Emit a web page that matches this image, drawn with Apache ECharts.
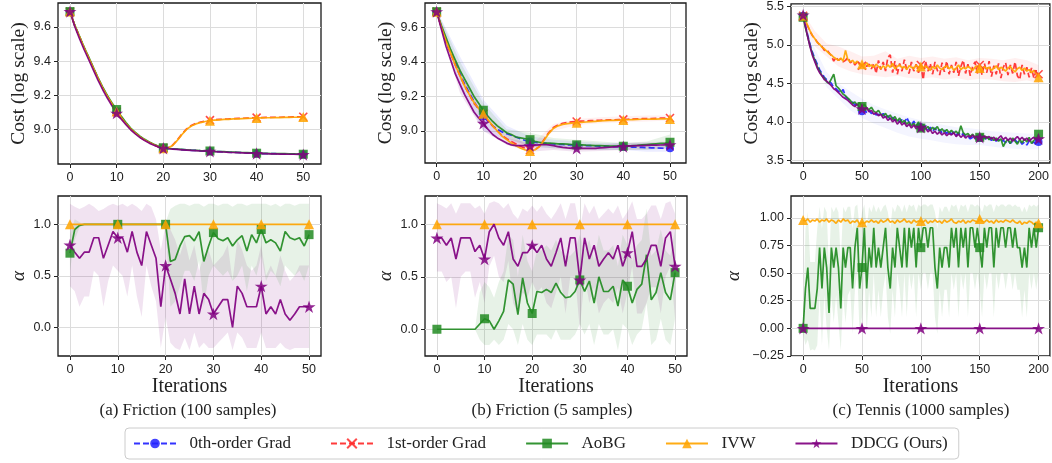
<!DOCTYPE html>
<html><head><meta charset="utf-8">
<script src="https://cdn.jsdelivr.net/npm/echarts@6.0.0/dist/echarts.min.js"></script>
<style>html,body{margin:0;padding:0;background:#fff}#c{width:1052px;height:463px}</style>
</head><body><div id="c"></div><script>
// ---------- labels ----------
const legendNames = ['0th-order Grad', '1st-order Grad', 'AoBG', 'IVW', 'DDCG (Ours)'];
const captions = ['(a) Friction (100 samples)', '(b) Friction (5 samples)', '(c) Tennis (1000 samples)'];
const costLabel = 'Cost (log scale)';
const alphaLabel = 'α';
const xLabel = 'Iterations';

// ---------- iterations / ticks ----------
const frictionIters = Array.from({length: 51}, (_, k) => k);
const tennisIters = Array.from({length: 101}, (_, k) => 2 * k);
const frictionBandIters = [0, 5, 10, 15, 20, 25, 30, 35, 40, 45, 50];
const tennisBandIters = [0, 10, 20, 30, 40, 50, 60, 70, 80, 90, 100, 110, 120, 130, 140, 150, 160, 170, 180, 190, 200];
const xTicksFriction = [0, 10, 20, 30, 40, 50];
const xTicksTennis = [0, 50, 100, 150, 200];
const yTicksCostFriction = [9.0, 9.2, 9.4, 9.6];
const yTicksCostTennis = [3.5, 4.0, 4.5, 5.0, 5.5];
const yTicksAlphaFriction = [0, 0.5, 1.0];
const yTicksAlphaTennis = [-0.25, 0, 0.25, 0.5, 0.75, 1.0];

// ---------- (a) Friction 100 samples : cost ----------
const aCost0th = [9.69,9.61,9.545,9.48,9.42,9.36,9.30,9.245,9.195,9.15,
 9.108,9.07,9.035,9.005,8.98,8.958,8.94,8.925,8.912,8.90,
 8.893,8.89,8.888,8.886,8.884,8.882,8.88,8.879,8.877,8.876,
 8.875,8.873,8.872,8.871,8.869,8.868,8.867,8.866,8.865,8.864,
 8.862,8.861,8.861,8.86,8.86,8.859,8.859,8.858,8.858,8.857,
 8.856];
const aCost1st = [9.69,9.61,9.545,9.48,9.42,9.36,9.30,9.245,9.195,9.15,
 9.106,9.07,9.035,9.005,8.98,8.958,8.94,8.925,8.912,8.90,
 8.893,8.895,8.91,8.94,8.975,9.005,9.025,9.037,9.045,9.05,
 9.056,9.058,9.06,9.062,9.063,9.065,9.066,9.067,9.068,9.069,
 9.071,9.071,9.072,9.072,9.073,9.073,9.074,9.074,9.075,9.075,
 9.076];
const aCostAoBG = [9.69,9.612,9.548,9.484,9.425,9.365,9.305,9.25,9.2,9.156,
 9.118,9.078,9.042,9.01,8.984,8.962,8.944,8.928,8.915,8.903,
 8.895,8.892,8.889,8.887,8.885,8.883,8.881,8.88,8.878,8.877,
 8.876,8.874,8.873,8.872,8.87,8.869,8.868,8.867,8.866,8.865,
 8.863,8.862,8.862,8.861,8.861,8.86,8.86,8.859,8.859,8.858,
 8.857];
const aCostIVW = [9.69,9.61,9.545,9.48,9.42,9.36,9.30,9.245,9.195,9.15,
 9.106,9.07,9.035,9.005,8.98,8.958,8.94,8.925,8.912,8.90,
 8.892,8.894,8.908,8.938,8.972,9.002,9.022,9.034,9.042,9.048,
 9.053,9.056,9.058,9.06,9.061,9.063,9.064,9.065,9.066,9.067,
 9.069,9.069,9.07,9.07,9.071,9.071,9.072,9.072,9.073,9.073,
 9.074];
const aCostDDCG = [9.69,9.605,9.535,9.47,9.41,9.35,9.29,9.235,9.185,9.14,
 9.097,9.062,9.03,9.0,8.976,8.955,8.937,8.922,8.91,8.899,
 8.892,8.889,8.887,8.885,8.883,8.881,8.879,8.878,8.876,8.875,
 8.874,8.872,8.871,8.87,8.868,8.867,8.866,8.865,8.864,8.863,
 8.861,8.86,8.86,8.859,8.859,8.858,8.858,8.857,8.857,8.856,
 8.855];

// ---------- (a) alpha ----------
const aAlphaAoBG = [0.72,0.95,0.99,1,1,1,1,1,1,1,
 1,1,1,1,1,1,1,1,1,1,
 1,0.64,0.66,0.79,0.88,0.89,0.84,0.93,0.64,0.79,
 0.92,0.86,0.84,0.87,0.79,0.85,0.89,0.74,0.9,0.82,
 0.95,0.82,0.85,0.82,0.74,0.93,0.87,0.85,0.87,0.79,
 0.9];
const aAlphaIVW = [1,1,1,1,1,1,1,1,1,1, 1,1,1,1,1,1,1,1,1,1, 1,1,1,1,1,1,1,1,1,1,
 1,1,1,1,1,1,1,1,1,1, 1,1,1,1,1,1,1,1,1,1, 1];
const aAlphaDDCG = [0.80,0.73,0.67,0.73,0.73,0.87,0.87,0.67,0.80,0.93,
 0.87,0.87,0.73,0.93,0.73,0.60,0.93,0.80,0.67,0.20,
 0.60,0.47,0.33,0.13,0.47,0.13,0.40,0.13,0.33,0.27,
 0.13,0.20,0.27,0.27,0.00,0.40,0.33,0.20,0.20,0.20,
 0.40,0.13,0.20,0.13,0.27,0.13,0.07,0.13,0.20,0.20,
 0.20];
const aBandDDCGHi = [1.2,1.17,1.15,1.17,1.2,1.17,1.13,1.15,1.18,1.2,
 1.18,1.2,1.17,1.2,1.17,1.13,1.2,1.17,1.05,0.75,
 1.0,0.95,0.85,0.7,0.85,0.65,0.8,0.55,0.7,0.75,
 0.6,0.65,0.7,0.8,0.45,0.85,0.75,0.6,0.55,0.6,
 0.8,0.5,0.6,0.5,0.7,0.55,0.45,0.5,0.6,0.6,
 0.6];
const aBandDDCGLo = [0.4,0.35,0.2,0.3,0.3,0.55,0.5,0.2,0.45,0.6,
 0.55,0.5,0.3,0.6,0.3,0.1,0.6,0.4,0.25,-0.2,
 0.1,-0.15,-0.2,-0.22,-0.1,-0.22,-0.05,-0.2,-0.15,-0.2,
 -0.2,-0.15,-0.1,-0.05,-0.22,-0.05,-0.1,-0.2,-0.2,-0.2,
 -0.05,-0.2,-0.2,-0.2,-0.15,-0.2,-0.22,-0.2,-0.2,-0.2,
 -0.2];
const aBandAoBGHi = [0.9,1.05,1.02,1,1,1,1,1,1,1,
 1,1,1,1,1,1,1,1,1,1,
 1.02,1.15,1.18,1.2,1.2,1.18,1.2,1.2,1.17,1.2,
 1.2,1.18,1.2,1.2,1.17,1.2,1.2,1.18,1.2,1.2,
 1.2,1.2,1.18,1.2,1.17,1.2,1.2,1.18,1.2,1.2,
 1.2];
const aBandAoBGLo = [0.55,0.85,0.97,1,1,1,1,1,1,1,
 1,1,1,1,1,1,1,1,1,1,
 0.98,0.2,0.25,0.4,0.55,0.55,0.45,0.65,0.2,0.5,
 0.6,0.55,0.5,0.55,0.45,0.5,0.6,0.35,0.6,0.5,
 0.7,0.45,0.55,0.5,0.4,0.6,0.55,0.5,0.55,0.45,
 0.6];

// ---------- (b) Friction 5 samples : cost ----------
const bCost0th = [9.69,9.60,9.52,9.45,9.39,9.33,9.27,9.22,9.17,9.125,
 9.085,9.055,9.03,9.01,8.995,8.985,8.975,8.965,8.955,8.945,
 8.94,8.935,8.932,8.93,8.928,8.925,8.923,8.922,8.92,8.92,
 8.918,8.917,8.916,8.915,8.914,8.913,8.912,8.911,8.91,8.91,
 8.909,8.908,8.907,8.906,8.905,8.904,8.903,8.902,8.901,8.90,
 8.90];
const bCost1st = [9.69,9.60,9.52,9.45,9.38,9.32,9.26,9.21,9.16,9.13,
 9.10,9.06,9.03,9.00,8.975,8.955,8.94,8.925,8.91,8.90,
 8.89,8.89,8.91,8.95,8.99,9.02,9.035,9.045,9.05,9.053,
 9.055,9.057,9.058,9.06,9.061,9.062,9.063,9.064,9.065,9.066,
 9.067,9.068,9.069,9.07,9.071,9.072,9.072,9.073,9.074,9.074,
 9.075];
const bCostAoBG = [9.69,9.61,9.54,9.47,9.41,9.35,9.30,9.25,9.20,9.16,
 9.12,9.085,9.055,9.03,9.01,8.99,8.98,8.965,8.96,8.955,
 8.95,8.94,8.935,8.93,8.93,8.928,8.926,8.925,8.924,8.922,
 8.92,8.92,8.918,8.917,8.916,8.915,8.914,8.913,8.912,8.912,
 8.912,8.913,8.915,8.917,8.92,8.922,8.924,8.926,8.928,8.93,
 8.935];
const bCostIVW = [9.69,9.60,9.52,9.45,9.38,9.32,9.26,9.21,9.165,9.13,
 9.10,9.065,9.03,9.00,8.97,8.95,8.93,8.915,8.90,8.89,
 8.885,8.89,8.91,8.945,8.985,9.015,9.03,9.038,9.043,9.046,
 9.048,9.05,9.052,9.054,9.056,9.058,9.06,9.061,9.062,9.063,
 9.064,9.065,9.066,9.067,9.068,9.068,9.069,9.069,9.07,9.07,
 9.07];
const bCostDDCG = [9.69,9.59,9.49,9.41,9.33,9.27,9.21,9.16,9.11,9.075,
 9.045,9.01,8.98,8.96,8.945,8.93,8.92,8.915,8.915,8.915,
 8.915,8.918,8.92,8.922,8.92,8.915,8.91,8.905,8.902,8.90,
 8.90,8.90,8.90,8.90,8.90,8.902,8.904,8.906,8.908,8.91,
 8.91,8.912,8.914,8.915,8.916,8.917,8.918,8.918,8.919,8.92,
 8.92];
const bBandCost0thHi = [9.70,9.43,9.18,9.03,8.97,8.95,8.94,8.93,8.93,8.93,8.93];
const bBandCost0thLo = [9.68,9.25,9.00,8.95,8.91,8.90,8.90,8.89,8.89,8.88,8.88];
const bBandCost1stHi = [9.70,9.34,9.12,8.99,8.91,9.04,9.07,9.08,9.085,9.09,9.09];
const bBandCost1stLo = [9.68,9.30,9.08,8.95,8.87,9.00,9.035,9.045,9.05,9.055,9.06];
const bBandCostAoBGHi = [9.70,9.40,9.16,9.01,8.99,8.96,8.95,8.94,8.93,8.94,8.98];
const bBandCostAoBGLo = [9.68,9.30,9.08,8.96,8.91,8.90,8.89,8.89,8.89,8.89,8.90];
const bBandCostDDCGHi = [9.70,9.34,9.08,8.96,8.93,8.93,8.92,8.92,8.93,8.935,8.94];
const bBandCostDDCGLo = [9.68,9.22,9.00,8.92,8.88,8.89,8.88,8.885,8.89,8.895,8.90];

// ---------- (b) alpha ----------
const bAlphaAoBG = [0,0,0,0,0,0,0,0,0,0.05,
 0.1,0.08,0,0.08,0.17,0.47,0.43,0.14,0.49,0.25,
 0.15,0.36,0.35,0.38,0.35,0.44,0.35,0.30,0.31,0.36,
 0.47,0.36,0.46,0.25,0.50,0.36,0.36,0.41,0.22,0.47,
 0.41,0.25,0.38,0.43,0.71,0.28,0.35,0.54,0.35,0.28,
 0.54];
const bAlphaIVW = [1,1,1,1,1,1,1,1,1,1, 1,1,1,1,1,1,1,1,1,1, 1,1,1,1,1,1,1,1,1,1,
 1,1,1,1,1,1,1,1,1,1, 1,1,1,1,1,1,1,1,1,1, 1];
const bAlphaDDCG = [0.87,0.87,0.80,0.87,0.67,0.87,0.87,0.87,0.74,0.80,
 0.67,0.93,1.00,0.87,0.80,0.93,0.67,0.60,0.73,0.73,
 0.80,0.73,0.80,0.67,0.60,0.73,0.87,0.60,0.87,0.87,
 0.47,0.87,0.67,0.80,0.60,0.67,0.73,0.67,0.80,0.60,
 0.73,0.93,0.60,0.60,0.67,0.80,0.80,0.60,0.87,0.93,
 0.60];
const bBandDDCGHi = [1.2,1.18,1.15,1.2,1.1,1.2,1.2,1.2,1.15,1.18,
 1.1,1.2,1.22,1.2,1.15,1.2,1.1,1.05,1.15,1.12,
 1.18,1.12,1.18,1.1,1.05,1.12,1.2,1.05,1.2,1.2,
 0.95,1.2,1.1,1.18,1.05,1.1,1.15,1.1,1.18,1.05,
 1.12,1.22,1.05,1.05,1.1,1.18,1.18,1.05,1.2,1.22,
 1.1];
const bBandDDCGLo = [0.55,0.55,0.45,0.5,0.2,0.5,0.55,0.55,0.3,0.45,
 0.25,0.6,0.7,0.5,0.45,0.65,0.25,0.15,0.35,0.3,
 0.45,0.35,0.4,0.25,0.2,0.35,0.5,0.15,0.5,0.5,
 0.0,0.5,0.25,0.4,0.15,0.25,0.3,0.25,0.4,0.15,
 0.35,0.6,0.15,0.15,0.25,0.4,0.4,0.15,0.5,0.6,
 0.1];
const bBandAoBGHi = [0,0,0,0,0,0,0,0,0,0.35,
 0.45,0.4,0.3,0.45,0.55,0.9,0.85,0.5,0.9,0.65,
 0.55,0.75,0.75,0.8,0.75,0.85,0.75,0.7,0.7,0.75,
 0.9,0.75,0.85,0.65,0.9,0.75,0.75,0.8,0.6,0.9,
 0.8,0.65,0.8,0.85,1.15,0.7,0.75,0.95,0.75,0.7,
 0.95];
const bBandAoBGLo = [0,0,0,0,0,0,0,0,0,-0.1,
 -0.15,-0.15,-0.1,-0.15,-0.1,0.05,0.0,-0.15,0.05,-0.1,
 -0.15,-0.05,-0.05,-0.05,-0.1,0.0,-0.1,-0.1,-0.1,-0.05,
 0.05,-0.05,0.05,-0.15,0.05,-0.05,-0.05,0.0,-0.2,0.05,
 0.0,-0.15,-0.05,0.0,0.25,-0.15,-0.1,0.1,-0.1,-0.15,
 0.1];

// ---------- (c) Tennis 1000 samples : cost (every 2nd iteration) ----------
const cCost0th = [5.38,5.25,5.12,5.00,4.90,4.82,4.75,4.68,4.63,4.58,
 4.55,4.53,4.50,4.45,4.43,4.40,4.38,4.42,4.33,4.30,
 4.28,4.26,4.22,4.24,4.18,4.14,4.17,4.12,4.15,4.11,
 4.13,4.09,4.10,4.07,4.11,4.05,4.08,4.03,4.06,4.02,
 4.04,4.00,4.03,3.98,4.06,3.99,3.96,4.01,3.95,3.98,
 3.93,3.91,3.95,3.90,3.93,3.88,3.92,3.87,3.90,3.86,
 3.89,3.85,3.88,3.84,3.87,3.83,3.86,3.82,3.85,3.81,
 3.81,3.78,3.80,3.77,3.79,3.79,3.77,3.81,3.76,3.79,
 3.76,3.78,3.75,3.77,3.74,3.76,3.73,3.76,3.72,3.75,
 3.77,3.73,3.76,3.71,3.74,3.70,3.75,3.72,3.74,3.70,
 3.74];
const cCost1st = [5.38,5.31,5.24,5.17,5.12,5.08,5.04,5.00,4.98,4.93,
 4.94,4.90,4.86,4.79,4.84,4.80,4.82,4.78,4.80,4.84,
 4.77,4.79,4.74,4.78,4.75,4.73,4.76,4.72,4.75,4.69,
 4.76,4.63,4.80,4.68,4.78,4.66,4.84,4.87,4.64,4.79,
 4.62,4.76,4.66,4.81,4.68,4.63,4.78,4.66,4.75,4.64,
 4.74,4.55,4.79,4.66,4.76,4.62,4.78,4.67,4.61,4.77,
 4.65,4.79,4.62,4.74,4.64,4.78,4.60,4.72,4.80,4.63,
 4.75,4.60,4.72,4.78,4.63,4.74,4.61,4.76,4.64,4.79,
 4.59,4.73,4.62,4.76,4.57,4.71,4.77,4.61,4.74,4.63,
 4.78,4.60,4.55,4.74,4.62,4.71,4.58,4.70,4.57,4.67,
 4.62];
const cCostAoBG = [5.36,5.22,5.10,4.98,4.88,4.80,4.72,4.66,4.60,4.57,
 4.52,4.50,4.56,4.62,4.47,4.44,4.40,4.36,4.34,4.31,
 4.28,4.24,4.26,4.22,4.25,4.20,4.23,4.18,4.16,4.19,
 4.14,4.12,4.15,4.10,4.08,4.11,4.06,4.09,4.03,4.07,
 4.01,4.05,3.99,4.02,3.97,4.00,3.95,3.98,3.94,4.00,
 3.92,3.96,3.91,3.94,3.89,3.93,3.90,3.94,3.88,3.91,
 3.87,3.90,3.86,3.89,3.85,3.88,3.84,3.95,3.86,3.83,
 3.85,3.81,3.84,3.80,3.83,3.80,3.84,3.78,3.81,3.77,
 3.80,3.76,3.79,3.75,3.78,3.68,3.74,3.77,3.72,3.79,
 3.75,3.71,3.77,3.73,3.78,3.74,3.80,3.72,3.76,3.78,
 3.84];
const cCostIVW = [5.38,5.32,5.25,5.18,5.12,5.08,5.03,5.01,4.97,4.95,
 4.92,4.89,4.87,4.84,4.82,4.80,4.83,4.79,4.93,4.81,
 4.78,4.80,4.76,4.79,4.74,4.75,4.73,4.77,4.72,4.74,
 4.71,4.75,4.72,4.69,4.73,4.70,4.74,4.71,4.76,4.69,
 4.72,4.74,4.70,4.72,4.68,4.73,4.71,4.69,4.74,4.70,
 4.72,4.69,4.73,4.70,4.67,4.72,4.69,4.74,4.70,4.68,
 4.71,4.73,4.69,4.72,4.67,4.70,4.74,4.68,4.71,4.69,
 4.72,4.70,4.67,4.71,4.73,4.70,4.68,4.72,4.69,4.71,
 4.67,4.70,4.73,4.68,4.71,4.69,4.66,4.70,4.72,4.68,
 4.65,4.69,4.71,4.67,4.70,4.66,4.68,4.64,4.67,4.63,
 4.58];
const cCostDDCG = [5.39,5.24,5.10,4.97,4.86,4.78,4.70,4.64,4.60,4.55,
 4.53,4.50,4.47,4.43,4.41,4.38,4.35,4.32,4.30,4.28,
 4.25,4.22,4.20,4.23,4.19,4.17,4.15,4.18,4.13,4.15,
 4.10,4.12,4.08,4.10,4.05,4.07,4.02,4.05,4.00,4.03,
 3.97,4.01,3.96,3.99,3.94,3.97,3.92,3.96,3.91,3.94,
 3.93,3.89,3.92,3.87,3.90,3.85,3.88,3.84,3.87,3.83,
 3.86,3.82,3.85,3.83,3.86,3.81,3.84,3.80,3.83,3.79,
 3.82,3.80,3.83,3.78,3.81,3.80,3.77,3.82,3.79,3.81,
 3.78,3.80,3.76,3.79,3.82,3.77,3.80,3.76,3.79,3.75,
 3.78,3.81,3.77,3.80,3.76,3.79,3.75,3.78,3.80,3.76,
 3.78];
const cBandCost1stHi = [5.42,5.18,5.02,4.98,4.92,4.85,4.86,4.92,4.82,4.86,4.83,4.85,4.82,4.84,4.80,4.83,4.82,4.80,4.83,4.80,4.74];
const cBandCost1stLo = [5.34,4.98,4.85,4.72,4.66,4.62,4.60,4.58,4.60,4.57,4.56,4.58,4.55,4.57,4.54,4.56,4.55,4.53,4.52,4.54,4.50];
const cBandCostLowHi = [5.42,4.95,4.65,4.50,4.40,4.30,4.22,4.16,4.11,4.06,4.02,3.99,3.96,3.93,3.92,3.90,3.88,3.87,3.86,3.85,3.84];
const cBandCostLowLo = [5.34,4.78,4.45,4.30,4.15,4.05,3.98,3.92,3.86,3.81,3.78,3.76,3.73,3.71,3.70,3.70,3.68,3.66,3.65,3.64,3.64];

// ---------- (c) alpha ----------
const cAlphaAoBG = [0.00,0.36,0.55,0.18,0.18,0.18,0.36,0.73,0.36,0.73,
 0.55,0.14,0.73,0.55,0.73,0.55,0.18,0.73,0.55,0.73,
 0.73,0.36,0.73,0.91,0.36,0.55,0.91,0.36,0.73,0.55,
 0.91,0.55,0.73,0.55,0.73,0.91,0.55,0.36,0.73,0.55,
 0.91,0.73,0.55,0.91,0.55,0.91,0.73,0.91,0.55,0.91,
 0.73,0.91,0.91,0.73,0.91,0.91,0.55,0.36,0.73,0.55,
 0.73,0.73,0.55,0.91,0.73,0.91,0.55,0.91,0.73,0.91,
 0.55,0.91,0.91,0.73,0.91,0.73,0.55,0.91,0.73,0.91,
 0.91,0.55,0.91,0.73,0.91,0.91,0.73,0.91,0.91,0.73,
 0.91,0.73,0.73,0.55,0.73,0.55,0.91,0.73,0.91,0.73,
 0.91];
const cAlphaIVW = [0.98,0.97,0.99,0.96,0.98,0.97,0.99,0.96,0.98,0.97,
 0.99,0.96,0.98,0.97,0.95,0.98,0.96,0.99,0.97,0.98,
 0.95,0.97,0.96,0.98,0.94,0.96,0.95,0.97,0.96,0.98,
 0.96,0.97,0.95,0.98,0.96,0.97,0.99,0.96,0.97,0.95,
 0.98,0.96,0.97,0.99,0.96,0.97,0.95,0.98,0.96,0.97,
 0.97,0.96,0.98,0.95,0.97,0.96,0.98,0.96,0.97,0.95,
 0.98,0.96,0.97,0.99,0.96,0.95,0.97,0.96,0.98,0.95,
 0.97,0.96,0.98,0.97,0.96,0.99,0.97,0.96,0.98,0.96,
 0.97,0.95,0.98,0.96,0.97,0.96,0.98,0.97,0.96,0.98,
 0.96,0.95,0.97,0.94,0.96,0.95,0.97,0.96,0.94,0.96,
 0.95];
const cAlphaDDCG = [0,0,0,0,0,0,0,0,0,0, 0,0,0,0,0,0,0,0,0,0, 0,0,0,0,0,0,0,0,0,0,
 0,0,0,0,0,0,0,0,0,0, 0,0,0,0,0,0,0,0,0,0, 0,0,0,0,0,0,0,0,0,0,
 0,0,0,0,0,0,0,0,0,0, 0,0,0,0,0,0,0,0,0,0, 0,0,0,0,0,0,0,0,0,0,
 0,0,0,0,0,0,0,0,0,0, 0];
const cBandAoBGHi = [0.05,0.9,1.05,0.6,0.6,0.6,0.9,1.1,0.9,1.1,
 1.05,0.55,1.1,1.05,1.1,1.05,0.6,1.1,1.05,1.1,
 1.1,0.9,1.1,1.12,0.9,1.05,1.12,0.9,1.1,1.05,
 1.12,1.05,1.1,1.05,1.1,1.12,1.05,0.9,1.1,1.05,
 1.12,1.1,1.05,1.12,1.05,1.12,1.1,1.12,1.05,1.12,
 1.1,1.12,1.12,1.1,1.12,1.12,1.05,0.9,1.1,1.05,
 1.1,1.1,1.05,1.12,1.1,1.12,1.05,1.12,1.1,1.12,
 1.05,1.12,1.12,1.1,1.12,1.1,1.05,1.12,1.1,1.12,
 1.12,1.05,1.12,1.1,1.12,1.12,1.1,1.12,1.12,1.1,
 1.12,1.1,1.1,1.05,1.1,1.05,1.12,1.1,1.12,1.1,
 1.12];
const cBandAoBGLo = [-0.05,-0.15,-0.1,-0.2,-0.19,-0.2,-0.15,0.3,-0.15,0.3,
 0.0,-0.2,0.3,0.05,0.3,0.05,-0.2,0.3,0.05,0.3,
 0.35,-0.05,0.35,0.5,-0.05,0.1,0.5,-0.05,0.35,0.1,
 0.5,0.1,0.35,0.1,0.35,0.5,0.1,-0.05,0.35,0.1,
 0.5,0.35,0.1,0.5,0.1,0.5,0.35,0.5,0.1,0.5,
 0.35,0.5,0.5,0.35,0.5,0.5,0.1,-0.05,0.35,0.1,
 0.35,0.35,0.1,0.5,0.35,0.5,0.1,0.5,0.35,0.5,
 0.1,0.5,0.5,0.35,0.5,0.35,0.1,0.5,0.35,0.5,
 0.5,0.1,0.5,0.35,0.5,0.5,0.35,0.5,0.5,0.35,
 0.5,0.35,0.35,0.1,0.35,0.1,0.5,0.35,0.5,0.35,
 0.5];

// ---------- styling ----------
const X_PATH = 'path://M0,0L10,10M10,0L0,10';
const STAR_PATH = 'path://M50,0L61.2,34.5L97.6,34.5L68.2,55.9L79.4,90.5L50,69.1L20.6,90.5L31.8,55.9L2.4,34.5L38.8,34.5Z';
const STY = {
  '0th-order Grad': {color: '#2222ff', dash: [6, 3], symbol: 'circle', size: 8, bw: 0},
  '1st-order Grad': {color: '#ff2a2a', dash: [6, 3], symbol: X_PATH, size: 8, bw: 1.6},
  'AoBG': {color: '#228b22', dash: null, symbol: 'rect', size: 9, bw: 0},
  'IVW': {color: '#ffa500', dash: null, symbol: 'triangle', size: 10, bw: 0},
  'DDCG (Ours)': {color: '#800080', dash: null, symbol: STAR_PATH, size: 13, bw: 0}
};
const BAND = {
  blue: 'rgba(40,60,255,0.09)', blueFaint: 'rgba(40,60,255,0.05)', red: 'rgba(255,40,40,0.07)',
  green: 'rgba(34,139,34,0.11)', purple: 'rgba(128,0,128,0.11)'
};
const SANS = '"Liberation Sans", Arial, sans-serif';
const SERIF = '"Liberation Serif", "Times New Roman", serif';
const INK = '#222';

const grids = [
  {left: 58, top: 3, width: 263, height: 161},
  {left: 58, top: 196, width: 263, height: 160},
  {left: 425, top: 3, width: 261, height: 160},
  {left: 425, top: 196, width: 262, height: 160},
  {left: 791, top: 3, width: 262, height: 160},
  {left: 791, top: 196, width: 262, height: 160}
].map(g => Object.assign({show: true, borderColor: '#1a1a1a', borderWidth: 1.3, backgroundColor: 'transparent'}, g));

function xAxis(gi, min, max, ticks, named) {
  return {
    type: 'value', gridIndex: gi, min: min, max: max,
    axisLine: {show: false, onZero: false},
    axisTick: {show: true, length: 4, lineStyle: {color: INK, width: 1}, customValues: ticks},
    axisLabel: {customValues: ticks, color: INK, fontFamily: SANS, fontSize: 12.5, margin: 7, formatter: v => String(v)},
    splitLine: {show: true, lineStyle: {color: '#dcdcdc', width: 1}},
    name: named ? xLabel : '', nameLocation: 'middle', nameGap: 21,
    nameTextStyle: {fontFamily: SERIF, fontSize: 20, color: INK}
  };
}
function yAxis(gi, min, max, ticks, name, gap, digits, italic) {
  return {
    type: 'value', gridIndex: gi, min: min, max: max,
    axisLine: {show: false, onZero: false},
    axisTick: {show: true, length: 4, lineStyle: {color: INK, width: 1}, customValues: ticks},
    axisLabel: {customValues: ticks, color: INK, fontFamily: SANS, fontSize: 12.5, margin: 7,
      formatter: v => v.toFixed(digits).replace('-', '\u2212')},
    splitLine: {show: true, lineStyle: {color: '#dcdcdc', width: 1}},
    name: name, nameLocation: 'middle', nameGap: gap,
    nameTextStyle: {fontFamily: SERIF, fontSize: italic ? 19 : 19.5, fontStyle: italic ? 'italic' : 'normal', color: INK}
  };
}

function band(gi, xs, lo, hi, color) {
  return {
    type: 'custom', xAxisIndex: gi, yAxisIndex: gi, silent: true, z: 1, clip: true,
    data: [[xs[0], lo[0]]],
    renderItem: function (params, api) {
      const pts = [];
      for (let k = 0; k < xs.length; k++) pts.push(api.coord([xs[k], hi[k]]));
      for (let k = xs.length - 1; k >= 0; k--) pts.push(api.coord([xs[k], lo[k]]));
      return {type: 'polygon', shape: {points: pts}, style: {fill: color, stroke: null}};
    }
  };
}
function line(gi, name, xs, ys, every) {
  const s = STY[name];
  return {
    type: 'line', name: name, xAxisIndex: gi, yAxisIndex: gi, silent: true, z: 2,
    data: xs.map((x, k) => [x, ys[k]]),
    symbol: s.symbol, symbolKeepAspect: true, showSymbol: true,
    symbolSize: (v, p) => (p.dataIndex % every === 0 ? s.size : 0),
    lineStyle: {color: s.color, width: 1.7, type: s.dash || 'solid', opacity: 0.92},
    itemStyle: {color: s.color, borderColor: s.color, borderWidth: s.bw, opacity: 0.85},
    emphasis: {disabled: true}
  };
}

const N = legendNames;
const series = [
  // (a) cost
  line(0, N[0], frictionIters, aCost0th, 10),
  line(0, N[1], frictionIters, aCost1st, 10),
  line(0, N[2], frictionIters, aCostAoBG, 10),
  line(0, N[3], frictionIters, aCostIVW, 10),
  line(0, N[4], frictionIters, aCostDDCG, 10),
  // (a) alpha
  band(1, frictionIters, aBandDDCGLo, aBandDDCGHi, BAND.purple),
  band(1, frictionIters, aBandAoBGLo, aBandAoBGHi, BAND.green),
  line(1, N[2], frictionIters, aAlphaAoBG, 10),
  line(1, N[3], frictionIters, aAlphaIVW, 10),
  line(1, N[4], frictionIters, aAlphaDDCG, 10),
  // (b) cost
  band(2, frictionBandIters, bBandCost0thLo, bBandCost0thHi, BAND.blue),
  band(2, frictionBandIters, bBandCost1stLo, bBandCost1stHi, BAND.red),
  band(2, frictionBandIters, bBandCostAoBGLo, bBandCostAoBGHi, BAND.green),
  band(2, frictionBandIters, bBandCostDDCGLo, bBandCostDDCGHi, BAND.purple),
  line(2, N[0], frictionIters, bCost0th, 10),
  line(2, N[1], frictionIters, bCost1st, 10),
  line(2, N[2], frictionIters, bCostAoBG, 10),
  line(2, N[3], frictionIters, bCostIVW, 10),
  line(2, N[4], frictionIters, bCostDDCG, 10),
  // (b) alpha
  band(3, frictionIters, bBandDDCGLo, bBandDDCGHi, BAND.purple),
  band(3, frictionIters, bBandAoBGLo, bBandAoBGHi, BAND.green),
  line(3, N[2], frictionIters, bAlphaAoBG, 10),
  line(3, N[3], frictionIters, bAlphaIVW, 10),
  line(3, N[4], frictionIters, bAlphaDDCG, 10),
  // (c) cost
  band(4, tennisBandIters, cBandCost1stLo, cBandCost1stHi, BAND.red),
  band(4, tennisBandIters, cBandCostLowLo, cBandCostLowHi, BAND.blueFaint),
  line(4, N[0], tennisIters, cCost0th, 25),
  line(4, N[1], tennisIters, cCost1st, 25),
  line(4, N[2], tennisIters, cCostAoBG, 25),
  line(4, N[3], tennisIters, cCostIVW, 25),
  line(4, N[4], tennisIters, cCostDDCG, 25),
  // (c) alpha
  band(5, tennisIters, cBandAoBGLo, cBandAoBGHi, BAND.green),
  line(5, N[2], tennisIters, cAlphaAoBG, 25),
  line(5, N[3], tennisIters, cAlphaIVW, 25),
  line(5, N[4], tennisIters, cAlphaDDCG, 25)
];

const option = {
  animation: false,
  backgroundColor: '#ffffff',
  grid: grids,
  xAxis: [
    xAxis(0, -2.57, 53.8, xTicksFriction, false),
    xAxis(1, -2.5, 52.5, xTicksFriction, true),
    xAxis(2, -2.5, 53.43, xTicksFriction, false),
    xAxis(3, -2.5, 52.5, xTicksFriction, true),
    xAxis(4, -10.3, 209.6, xTicksTennis, false),
    xAxis(5, -10.3, 209.6, xTicksTennis, true)
  ],
  yAxis: [
    yAxis(0, 8.80, 9.74, yTicksCostFriction, costLabel, 29, 1, false),
    yAxis(1, -0.278, 1.275, yTicksAlphaFriction, alphaLabel, 30, 1, true),
    yAxis(2, 8.815, 9.74, yTicksCostFriction, costLabel, 29, 1, false),
    yAxis(3, -0.255, 1.27, yTicksAlphaFriction, alphaLabel, 30, 1, true),
    yAxis(4, 3.466, 5.535, yTicksCostTennis, costLabel, 29, 1, false),
    yAxis(5, -0.25, 1.197, yTicksAlphaTennis, alphaLabel, 48, 2, true)
  ],
  legend: {
    data: legendNames, left: 125, top: 428, orient: 'horizontal',
    padding: [7, 11, 7, 8], itemWidth: 42, itemHeight: 12, itemGap: 39,
    borderColor: '#cccccc', borderWidth: 1, borderRadius: 4, backgroundColor: '#ffffff',
    formatter: n => '  ' + n,
    textStyle: {fontFamily: SERIF, fontSize: 17, color: INK},
    selectedMode: false
  },
  graphic: captions.map((t, k) => ({
    type: 'text', x: [188, 552, 921][k], y: 411, silent: true,
    style: {text: t, font: '17px ' + SERIF, fill: INK, align: 'center', verticalAlign: 'middle',
      textAlign: 'center', textVerticalAlign: 'middle'}
  })),
  series: series
};

const chart = echarts.init(document.getElementById('c'), null, {renderer: 'canvas'});
chart.setOption(option);
</script></body></html>
